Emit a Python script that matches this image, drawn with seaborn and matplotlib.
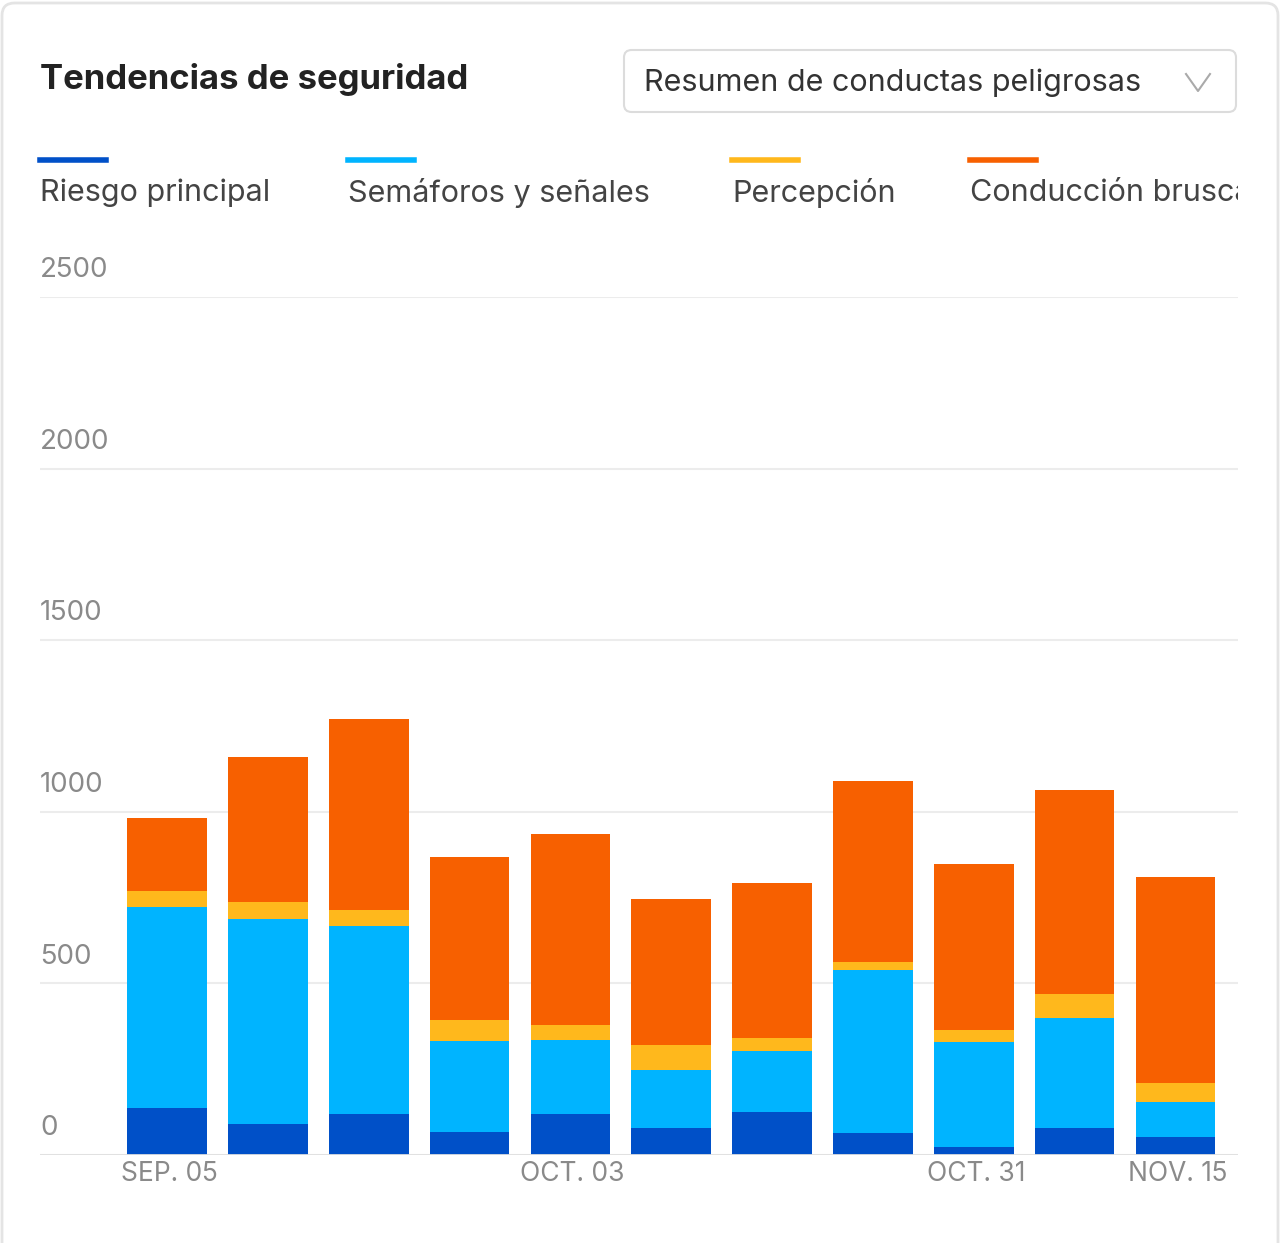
import matplotlib
matplotlib.use('Agg')
import matplotlib.pyplot as plt
from matplotlib.patches import FancyBboxPatch
from matplotlib.transforms import Bbox
import seaborn as sns
import pandas as pd
import numpy as np

plt.rcParams['font.family'] = 'Inter'

# datos
semanas = ['SEP. 05', 'SEP. 12', 'SEP. 19', 'SEP. 26', 'OCT. 03', 'OCT. 10', 'OCT. 17',
           'OCT. 24', 'OCT. 31', 'NOV. 07', 'NOV. 15']
riesgo = [137, 90, 120, 67, 120, 79, 125, 64, 23, 79, 52]
semaforos = [586, 598, 548, 265, 215, 169, 178, 475, 306, 320, 103]
percepcion = [47, 50, 46, 62, 44, 73, 38, 24, 35, 70, 55]
conduccion = [212, 422, 557, 475, 557, 425, 452, 527, 484, 595, 600]
series = ['Riesgo principal', 'Semáforos y señales', 'Percepción', 'Conducción brusca']
colores = ['#0050c8', '#00b4ff', '#ffb81c', '#f76000']
etiquetas_x = {0: 'SEP. 05', 4: 'OCT. 03', 8: 'OCT. 31', 10: 'NOV. 15'}
ticks_y = [0, 500, 1000, 1500, 2000, 2500]

W, H = 1280, 1243
fig = plt.figure(figsize=(W / 100, H / 100), dpi=100)
ax = fig.add_axes([40 / W, 1 - 1155 / H, (1238 - 40) / W, (1155 - 297) / H])

# tarjeta
fig.patches.append(FancyBboxPatch((2 / W, -0.05), (W - 4) / W, 1.05 - 3 / H,
                                  boxstyle='round,pad=0,rounding_size=0.01',
                                  transform=fig.transFigure, fc='white', ec='#e4e4e4', lw=2, zorder=-10))

df = pd.DataFrame({'semana': semanas, 'r': riesgo, 's': semaforos, 'p': percepcion, 'c': conduccion})
df['t1'] = df['r']
df['t2'] = df['t1'] + df['s']
df['t3'] = df['t2'] + df['p']
df['t4'] = df['t3'] + df['c']
for col, color in zip(['t4', 't3', 't2', 't1'], colores[::-1]):
    sns.barplot(data=df, x='semana', y=col, color=color, width=0.79, saturation=1, ax=ax, zorder=3)

ax.set_xlim(-1.26, 10.62)
ax.set_ylim(0, 2500)
ax.set_yticks(ticks_y)
ax.set_yticklabels([])
ax.tick_params(length=0)
ax.set_xticks([])
ax.set_xlabel('')
ax.set_ylabel('')
ax.grid(axis='y', color='#ececec', lw=1.5, zorder=0)
for s in ax.spines.values():
    s.set_visible(False)
ax.axhline(0, color='#e0e0e0', lw=2, zorder=4)
for t in ticks_y:
    ax.text(-1.26, t + 40, str(t), fontsize=20, color='#8a8a8a', ha='left', va='bottom')

clip = Bbox.from_extents(0, 0, 1238, H)
for i, lab in etiquetas_x.items():
    txt = ax.text(i + 0.02, -55, lab, fontsize=19, color='#8a8a8a', ha='center', va='center', clip_on=True)
    txt.set_clip_box(clip)

# título y selector
fig.text(40 / W, 1 - 80 / H, 'Tendencias de seguridad', fontsize=25, fontweight='bold',
         color='#222222', va='center')
fig.patches.append(FancyBboxPatch((624 / W, 1 - 112 / H), 612 / W, 62 / H,
                                  boxstyle='round,pad=0,rounding_size=0.006',
                                  transform=fig.transFigure, fc='white', ec='#dcdcdc', lw=1.5))
fig.text(644 / W, 1 - 83 / H, 'Resumen de conductas peligrosas', fontsize=22, color='#333333', va='center')
fig.add_artist(plt.Line2D([1186 / W, 1198 / W, 1210 / W], [1 - 74 / H, 1 - 91 / H, 1 - 74 / H],
                          transform=fig.transFigure, color='#aaaaaa', lw=1.5))

# leyenda
for x0, nombre, color in zip([40, 348, 732, 970], series, colores):
    fig.add_artist(plt.Line2D([x0 / W, (x0 + 66) / W], [1 - 160 / H] * 2,
                              transform=fig.transFigure, color=color, lw=4))
    txt = fig.text(x0 / W, 1 - 193 / H, nombre, fontsize=22, color='#444444', va='center', clip_on=True)
    txt.set_clip_box(clip)

fig.savefig('out.png', dpi=100)
